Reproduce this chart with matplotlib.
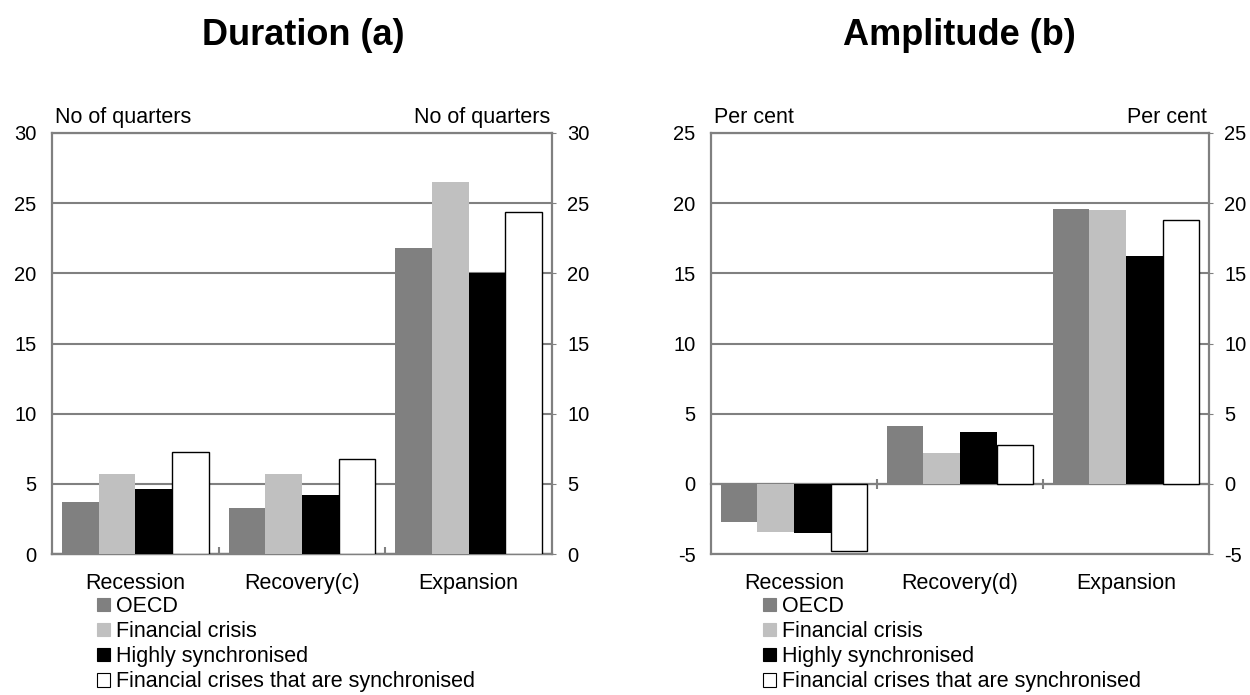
import numpy as np
import matplotlib
matplotlib.use("Agg")
import matplotlib.pyplot as plt
from matplotlib.patches import Patch

plt.rcParams['font.family'] = ['Liberation Sans', 'DejaVu Sans']
plt.rcParams['axes.unicode_minus'] = False

# data
series = ['OECD', 'Financial crisis', 'Highly synchronised',
          'Financial crises that are synchronised']
colors = ['#808080', '#c0c0c0', '#000000', '#ffffff']

dur_cats = ['Recession', 'Recovery(c)', 'Expansion']
dur_oecd = [3.7, 3.3, 21.8]
dur_fin = [5.7, 5.7, 26.5]
dur_sync = [4.6, 4.2, 20.0]
dur_finsync = [7.3, 6.8, 24.4]

amp_cats = ['Recession', 'Recovery(d)', 'Expansion']
amp_oecd = [-2.7, 4.1, 19.6]
amp_fin = [-3.4, 2.2, 19.5]
amp_sync = [-3.5, 3.7, 16.2]
amp_finsync = [-4.8, 2.8, 18.8]

GRAY = '#808080'
FS = 14.5
FS_TXT = 15.5


def draw_panel(ax, cats, values, ylim, unit):
    x = np.arange(len(cats))
    width = 0.22
    for i, (vals, col) in enumerate(zip(values, colors)):
        ec = 'black' if col == '#ffffff' else col
        ax.bar(x + (i - 1.5) * width, vals, width, color=col, edgecolor=ec,
               linewidth=1.0 if col == '#ffffff' else 0, zorder=3)
    ax.set_xlim(-0.5, len(cats) - 0.5)
    ax.set_ylim(*ylim)
    ax.set_yticks(np.arange(ylim[0], ylim[1] + 1, 5))
    ax.yaxis.grid(True, color=GRAY, linewidth=1.5, zorder=0)
    ax.set_axisbelow(True)
    for sp in ax.spines.values():
        sp.set_color(GRAY)
        sp.set_linewidth(1.6)
    ax.set_xticks(x)
    ax.set_xticklabels(cats, fontsize=FS_TXT)
    ax.tick_params(axis='x', length=0, pad=14)
    ax.tick_params(axis='y', labelsize=FS, left=False, right=True,
                   labelright=True, length=3, color=GRAY, pad=8)

    # category separators on the zero line
    zero = (0 - ylim[0]) / (ylim[1] - ylim[0])
    sec = ax.secondary_xaxis(zero)
    sec.set_xticks(x[:-1] + 0.5)
    sec.tick_params(length=7 if ylim[0] < 0 else 5,
                    direction='inout' if ylim[0] < 0 else 'in',
                    color=GRAY, width=1.5, labelbottom=False)
    sec.spines['bottom'].set_color(GRAY)
    sec.spines['bottom'].set_linewidth(1.6)
    sec.set_xticklabels([])

    ax.text(0.006, 1.012, unit, transform=ax.transAxes, fontsize=FS_TXT,
            ha='left', va='bottom')
    ax.text(0.996, 1.012, unit, transform=ax.transAxes, fontsize=FS_TXT,
            ha='right', va='bottom')


fig = plt.figure(figsize=(12.5, 6.95), dpi=100)
ax1 = fig.add_axes([52 / 1250, 1 - 554 / 695, 500 / 1250, 421 / 695])
ax2 = fig.add_axes([711 / 1250, 1 - 554 / 695, 498 / 1250, 421 / 695])

draw_panel(ax1, dur_cats, [dur_oecd, dur_fin, dur_sync, dur_finsync],
           (0, 30), 'No of quarters')
draw_panel(ax2, amp_cats, [amp_oecd, amp_fin, amp_sync, amp_finsync],
           (-5, 25), 'Per cent')

fig.text(303 / 1250, 1 - 45 / 695, 'Duration (a)', fontsize=26,
         fontweight='bold', ha='center', va='baseline')
fig.text(959 / 1250, 1 - 45 / 695, 'Amplitude (b)', fontsize=26,
         fontweight='bold', ha='center', va='baseline')

handles = [Patch(facecolor=c, edgecolor='black' if c == '#ffffff' else c,
                 linewidth=0.8) for c in colors]
for xl in (97 / 1250, 763 / 1250):
    fig.legend(handles, series, loc='upper left',
               bbox_to_anchor=(xl, 1 - 596 / 695), frameon=False,
               fontsize=FS_TXT, handlelength=0.6, handleheight=0.6,
               handletextpad=0.3, labelspacing=0.19, borderpad=0,
               borderaxespad=0)

fig.savefig('out.png', dpi=100)
